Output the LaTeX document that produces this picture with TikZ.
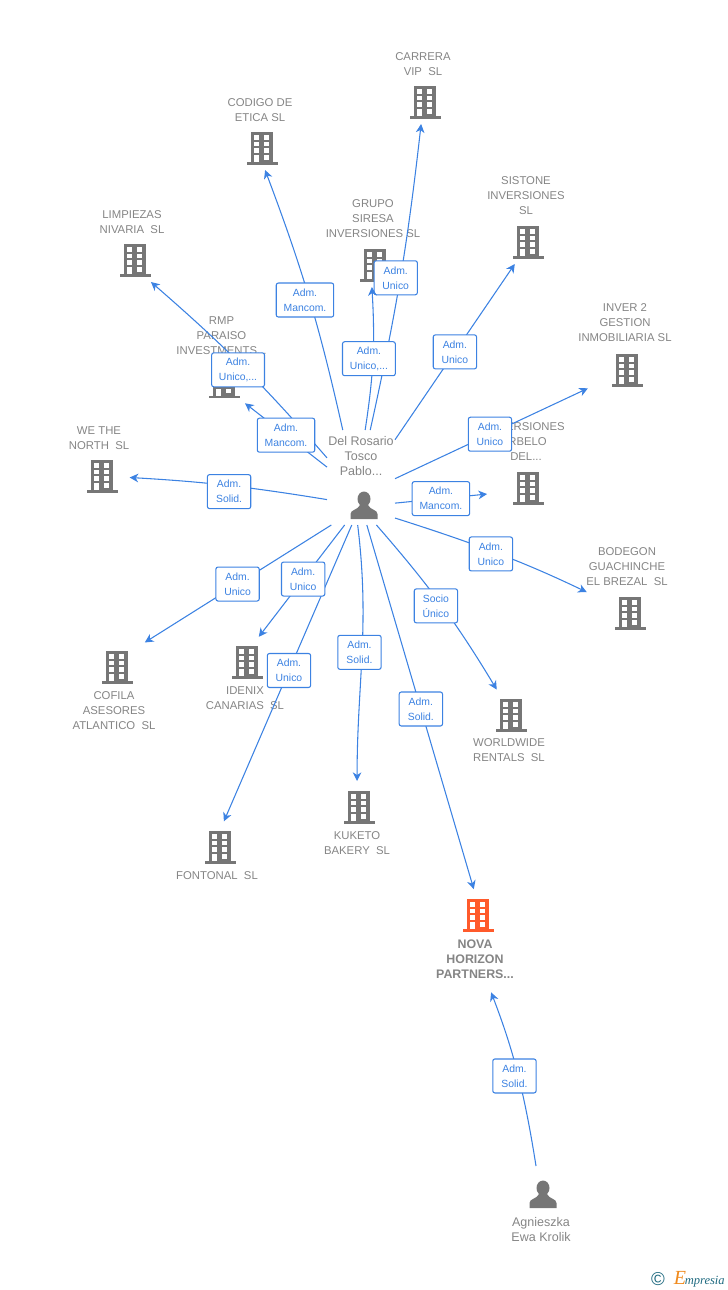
\documentclass[tikz,border=0pt]{standalone}
\usepackage{fontspec}
\setmainfont{Liberation Sans}
\newfontfamily\logofont{Liberation Serif}
\usetikzlibrary{arrows.meta, positioning}

\definecolor{linkblue}{HTML}{3C82E2}
\definecolor{icongray}{HTML}{767676}
\definecolor{textgray}{HTML}{858585}
\definecolor{novaorange}{HTML}{FF5A2B}
\definecolor{logoteal}{HTML}{1F6A80}
\definecolor{logoorange}{HTML}{F08A1D}

\newcommand{\drawoffice}[1]{%
  \fill[#1] (-11,-16.5) rectangle (11,14);
  \fill[#1] (-15.5,14) rectangle (15.5,16.5);
  \foreach \wy in {-13,-6.3,0.4} {
    \fill[white] (-7.7,\wy) rectangle +(5,4.5);
    \fill[white] (2.3,\wy) rectangle +(5,4.5);
  }
  \fill[white] (-7.7,7) rectangle (-2.7,14);
  \fill[white] (2.3,7) rectangle +(5,4.5);
}
\newcommand{\drawperson}{%
  \fill[icongray] (0,-6) ellipse [x radius=6.5, y radius=7.5];
  \fill[icongray] (-13.5,14) -- (-13.5,9) .. controls (-13.5,4.5) and (-6,5) .. (-4,0)
    -- (4,0) .. controls (6,5) and (13.5,4.5) .. (13.5,9) -- (13.5,14) -- cycle;
}

\begin{document}
\begin{tikzpicture}[x=0.75pt, y=-0.75pt, >={Stealth[length=6.5pt, width=6.5pt, inset=2pt]}]
    % Styles
    \tikzstyle{office} = [rectangle, minimum width=24pt, minimum height=25.5pt, inner sep=0pt, outer sep=3.75pt, path picture={\drawoffice{icongray}}]
    \tikzstyle{novaoffice} = [office, path picture={\drawoffice{novaorange}}]
    \tikzstyle{person} = [rectangle, minimum width=21pt, minimum height=21pt, inner sep=0pt, path picture={\drawperson}]
    \tikzstyle{hub} = [rectangle, minimum width=51pt, minimum height=71.25pt, inner sep=0pt, outer sep=0pt]
    \tikzstyle{caption} = [font=\fontsize{8.5}{11.25}\selectfont, text=textgray, align=center, inner sep=0pt]
    \tikzstyle{personcaption} = [caption, font=\fontsize{9.4}{11.25}\selectfont]
    \tikzstyle{novacaption} = [caption, font=\fontsize{9.3}{11.25}\selectfont\bfseries]
    \tikzstyle{role} = [rectangle, draw=linkblue, fill=white, rounded corners=1.6pt, line width=0.8pt, text=linkblue, font=\fontsize{7.8}{11.25}\selectfont, align=center, inner xsep=5.5pt, inner ysep=0pt, minimum width=32.5pt, minimum height=25.5pt]
    \tikzstyle{link} = [draw=linkblue, line width=0.8pt, ->]

    \useasboundingbox (0,0) rectangle (728,1290);

    % Companies
    \node[office] (carrera) at (425,102) {};
    \node[caption] (carreratxt) at (423,64) {CARRERA\\VIP\ \ SL};
    \node[office] (codigo) at (262,148) {};
    \node[caption] (codigotxt) at (260,110) {CODIGO DE\\ETICA SL};
    \node[office] (limpiezas) at (135,260) {};
    \node[caption] (limpiezastxt) at (132,222) {LIMPIEZAS\\NIVARIA\ \ SL};
    \node[office] (grupo) at (375,265) {};
    \node[caption] (grupotxt) at (373,219) {GRUPO\\SIRESA\\INVERSIONES SL};
    \node[office] (sistone) at (528,242) {};
    \node[caption] (sistonetxt) at (526,196) {SISTONE\\INVERSIONES\\SL};
    \node[office] (inver) at (627,370) {};
    \node[caption] (invertxt) at (625,323) {INVER 2\\GESTION\\INMOBILIARIA SL};
    \node[office] (rmp) at (224,381.5) {};
    \node[caption] (rmptxt) at (221.5,336) {RMP\\PARAISO\\INVESTMENTS...};
    \node[office] (wethe) at (102,476) {};
    \node[caption] (wethetxt) at (99,438) {WE THE\\NORTH\ \ SL};
    \node[office] (irbelo) at (528,488) {};
    \node[caption] (irbelotxt) at (526,442) {INVERSIONES\\IRBELO\\DEL...};
    \node[office] (bodegon) at (630,613) {};
    \node[caption] (bodegontxt) at (627,567) {BODEGON\\GUACHINCHE\\EL BREZAL\ \ SL};
    \node[office] (cofila) at (117,667) {};
    \node[caption] (cofilatxt) at (114,711) {COFILA\\ASESORES\\ATLANTICO\ \ SL};
    \node[office] (idenix) at (247,662) {};
    \node[caption] (idenixtxt) at (245,698) {IDENIX\\CANARIAS\ \ SL};
    \node[office] (worldwide) at (511,715) {};
    \node[caption] (worldwidetxt) at (509,750) {WORLDWIDE\\RENTALS\ \ SL};
    \node[office] (fontonal) at (220,847) {};
    \node[caption] (fontonaltxt) at (217,876) {FONTONAL\ \ SL};
    \node[office] (kuketo) at (359,807) {};
    \node[caption] (kuketotxt) at (357,843) {KUKETO\\BAKERY\ \ SL};
    \node[novaoffice] (nova) at (478,915) {};
    \node[novacaption] (novatxt) at (475,959) {NOVA\\HORIZON\\PARTNERS...};

    % People
    \node[personcaption] (delname) at (361,456) {Del Rosario\\Tosco\\Pablo...};
    \node[person] (delicon) at (364,505) {};
    \node[hub] (del) at (361,477.5) {};
    \node[person, outer sep=10.5pt] (agaicon) at (543,1194) {};
    \node[personcaption] (aganame) at (541,1230) {Agnieszka\\Ewa Krolik};

    % Logo
    \node[inner sep=0pt, text=logoteal, font=\fontsize{14}{14}\selectfont] (logomark) at (658,1279) {©};
    \node[inner sep=0pt, anchor=east, text=logoteal, font=\logofont\fontsize{9.4}{12}\selectfont] (logoname) at (725,1279) {\textcolor{logoorange}{\itshape\fontsize{15}{15}\selectfont E}\kern-1pt{\itshape mpresia}};

    % Paths
    \draw[link] (del.79) to[bend right=3] node[role, xshift=-3.5pt] {Adm.\\Unico} (carrera.-100);
    \draw[link] (del.85) to[bend right=6] node[role, xshift=-3pt] {Adm.\\Unico,...} (grupo.-98);
    \draw[link] (del.111) to[bend right=4] node[role, xshift=-3.2pt, yshift=-1.2pt] {Adm.\\Mancom.} (codigo.-82);
    \draw[link] (del.150) to[bend right=4] node[role, xshift=-3.4pt, yshift=-2.6pt] {Adm.\\Unico,...} (limpiezas.-54);
    \draw[link] (del.163) to node[role] {Adm.\\Mancom.} (rmp.-46);
    \draw[link, shorten >=5pt] (del.213) to[bend right=3] node[role, pos=0.48, yshift=-4.5pt] {Adm.\\Solid.} (wethe);
    \draw[link] (del.48) to node[role] {Adm.\\Unico} (sistone.-121);
    \draw[link, shorten >=15pt] (del.-2) to node[role, pos=0.45] {Adm.\\Unico} (inver);
    \draw[link, shorten >=15pt] (del.-37) to node[role, pos=0.41] {Adm.\\Mancom.} (irbelo.191);
    \draw[link, shorten >=18.5pt] (del.-50) to[bend left=4] node[role, pos=0.46, xshift=-3.75pt, yshift=-0.75pt] {Adm.\\Unico} (bodegon);
    \draw[link, shorten >=3pt] (del.-72) to[bend left=5] node[role, xshift=-4.5pt] {Socio\\Único} (worldwide.119);
    \draw[link, shorten >=3pt] (del.-83) to node[role] {Adm.\\Solid.} (nova.98);
    \draw[link, shorten >=3pt] (del.-94) to[out=-83, in=90] node[role, pos=0.49, xshift=-2pt] {Adm.\\Solid.} (kuketo.95);
    \draw[link, shorten >=3pt] (del.-101) to node[role, pos=0.485] {Adm.\\Unico} (fontonal.84);
    \draw[link, shorten >=3pt] (del.-109) to node[role, pos=0.47] {Adm.\\Unico} (idenix.67);
    \draw[link, shorten >=6pt] (del.-122) to node[role, pos=0.485] {Adm.\\Unico} (cofila.44);
    \draw[link, shorten >=11pt] (agaicon.104) to[bend right=6] node[role, pos=0.47, xshift=-2.7pt] {Adm.\\Solid.} (novatxt.-61);
\end{tikzpicture}
\end{document}
